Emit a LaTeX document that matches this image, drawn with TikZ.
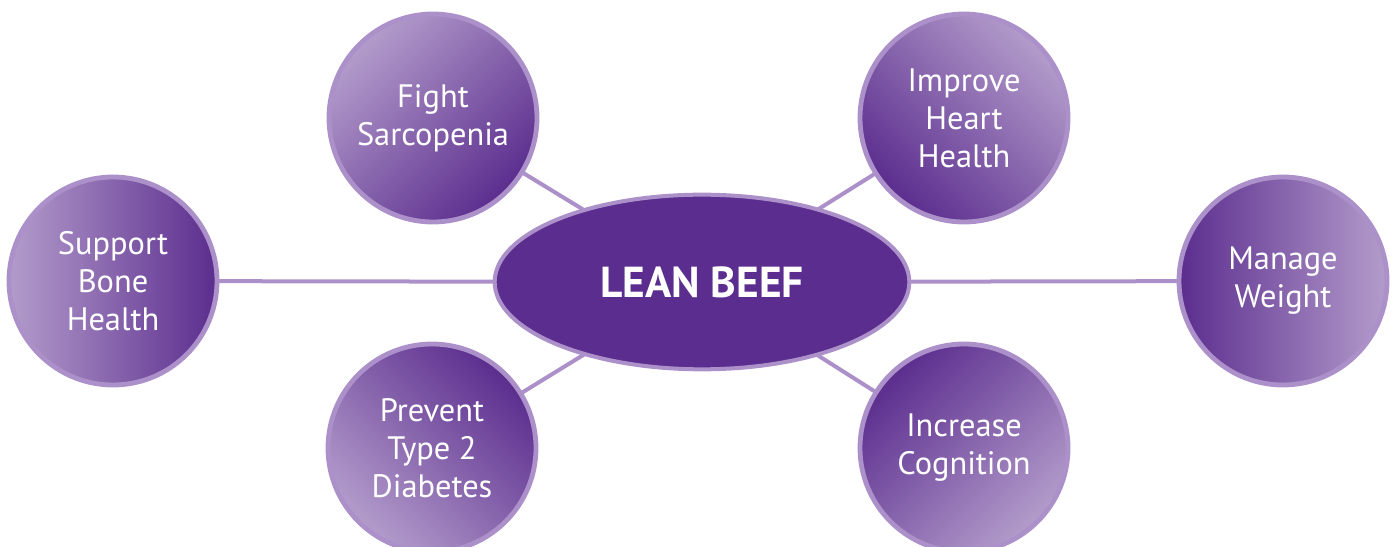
\documentclass[tikz,border=0pt]{standalone}
\usepackage{fontspec}
\setmainfont{PT Sans}
\usetikzlibrary{shapes.geometric,backgrounds}
\definecolor{beefdark}{HTML}{5B2D8E}
\definecolor{beeflight}{HTML}{B39CCB}
\definecolor{beefrim}{HTML}{AC90C9}
\begin{document}
\begin{tikzpicture}[x=0.75pt,y=0.75pt,
  benefit/.style={circle, minimum size=156pt, inner sep=0pt,
    draw=beefrim, line width=3.6pt, text=white, align=center,
    font=\fontsize{24.3}{28.5}\selectfont,
    top color=beeflight, bottom color=beefdark, shading angle=#1},
  hub/.style={ellipse, minimum width=311pt, minimum height=131pt,
    draw=beefrim, line width=3pt, fill=beefdark, text=white,
    font=\bfseries\fontsize{32.5}{36}\selectfont},
  link/.style={draw=beefrim, line width=3pt}]
\useasboundingbox (0,0) rectangle (1395,546);
\begin{scope}
\clip (0,0) rectangle (1395,546);
\node[hub] (beef) at (702,264) {LEAN BEEF};
\node[benefit=90]   (bone)   at (113,265)  {Support\\Bone\\Health};
\node[benefit=-90]  (weight) at (1283,265) {Manage\\Weight};
\node[benefit=45]   (sarc)   at (433,428)  {Fight\\Sarcopenia};
\node[benefit=-45]  (heart)  at (964,428)  {Improve\\Heart\\Health};
\node[benefit=135]  (diab)   at (432,98)   {Prevent\\Type 2\\Diabetes};
\node[benefit=-135] (cogn)   at (964,98)   {Increase\\Cognition};
\begin{scope}[on background layer]
\foreach \b in {bone,weight,sarc,heart,diab,cogn}
  \path[link] (beef.center) -- (\b.center);
\end{scope}
\end{scope}
\end{tikzpicture}
\end{document}
